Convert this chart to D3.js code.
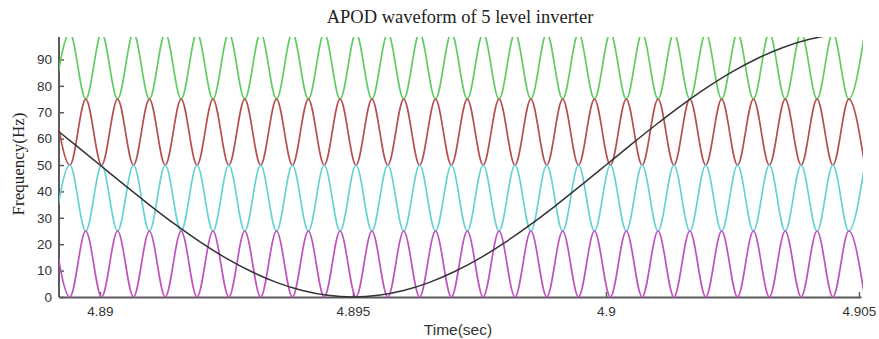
<!DOCTYPE html>
<html>
<head>
<meta charset="utf-8">
<script src="https://cdn.jsdelivr.net/npm/d3@7"></script>
<style>
  html, body { margin: 0; padding: 0; background: #fff; }
  svg { display: block; }
</style>
</head>
<body>
<svg id="chart" width="879" height="339"></svg>
<script>
// Time range and axis ticks
const timeDomain = [4.88919, 4.90504];
const levelDomain = [0, 98.5];
const timeTicks = [4.89, 4.895, 4.9, 4.905];
const timeTickLabels = ["4.89", "4.895", "4.9", "4.905"];
const levelTicks = [0, 10, 20, 30, 40, 50, 60, 70, 80, 90];

// Carrier turning points (s): alternating high / low of the lowest carrier
const carrierExtremaTimes = [
  4.889091, 4.889405, 4.889719, 4.890033, 4.890348, 4.890662, 4.890976, 4.891290,
  4.891604, 4.891918, 4.892233, 4.892547, 4.892861, 4.893175, 4.893489, 4.893803,
  4.894118, 4.894432, 4.894746, 4.895060, 4.895374, 4.895688, 4.896003, 4.896317,
  4.896631, 4.896945, 4.897259, 4.897573, 4.897887, 4.898202, 4.898516, 4.898830,
  4.899144, 4.899458, 4.899772, 4.900087, 4.900401, 4.900715, 4.901029, 4.901343,
  4.901657, 4.901972, 4.902286, 4.902600, 4.902914, 4.903228, 4.903542, 4.903857,
  4.904171, 4.904485, 4.904799, 4.905113
];

// Carrier bands [low, high]; alternate carriers are in phase opposition
const carrierNames = ["band4", "band3", "band2", "band1"];
const carrierLow  = [75, 50, 25, 0];
const carrierHigh = [100, 75, 50, 25];
const carrierStartsHigh = [false, true, false, true];
const carrierColors = ["#62cc62", "#b54f4f", "#66d3d3", "#c052c0"];

// Reference (modulating) signal samples
const refTimes = [
  4.8890, 4.8895, 4.8900, 4.8905, 4.8910, 4.8915, 4.8920, 4.8925, 4.8930, 4.8935,
  4.8940, 4.8945, 4.8950, 4.8955, 4.8960, 4.8965, 4.8970, 4.8975, 4.8980, 4.8985,
  4.8990, 4.8995, 4.9000, 4.9005, 4.9010, 4.9015, 4.9020, 4.9025, 4.9030, 4.9035,
  4.9040, 4.9045
];
const refValues = [
  65.45, 57.82, 50.00, 42.18, 34.55, 27.30, 20.61, 14.64, 9.55, 5.45,
  2.45, 0.62, 0.00, 0.62, 2.45, 5.45, 9.55, 14.64, 20.61, 27.30,
  34.55, 42.18, 50.00, 57.82, 65.45, 72.70, 79.39, 85.36, 90.45, 94.55,
  97.55, 99.38
];

const svg = d3.select("#chart");
const margin = { left: 59, right: 18, top: 37, bottom: 42 };
const W = 879, H = 339;

const x = d3.scaleLinear().domain(timeDomain).range([margin.left, W - margin.right]);
const y = d3.scaleLinear().domain(levelDomain).range([H - margin.bottom, margin.top]);

svg.append("defs").append("clipPath").attr("id", "plotClip")
  .append("rect")
  .attr("x", x.range()[0])
  .attr("y", y.range()[1])
  .attr("width", x.range()[1] - x.range()[0] + 2)
  .attr("height", y.range()[0] - y.range()[1] + 1.5);

// Title
svg.append("text")
  .attr("x", (x.range()[0] + x.range()[1]) / 2)
  .attr("y", 23)
  .attr("text-anchor", "middle")
  .attr("font-family", "'Liberation Serif', 'Times New Roman', serif")
  .attr("font-size", 18.5)
  .attr("fill", "#222")
  .text("APOD waveform of 5 level inverter");

// Axes
const axisColor = "#5a5a5a";
const xAxis = d3.axisBottom(x).tickValues(timeTicks)
  .tickFormat((d, i) => timeTickLabels[i]).tickSizeInner(-5).tickSizeOuter(0).tickPadding(9);
const yAxis = d3.axisLeft(y).tickValues(levelTicks)
  .tickSizeInner(-5).tickSizeOuter(0).tickPadding(7);

const gx = svg.append("g").attr("transform", `translate(0,${y(0)})`).call(xAxis);
const gy = svg.append("g").attr("transform", `translate(${x.range()[0]},0)`).call(yAxis);
[gx, gy].forEach(g => {
  g.select(".domain").attr("stroke", axisColor).attr("stroke-width", 2);
  g.selectAll(".tick line").attr("stroke", axisColor).attr("stroke-width", 1.5);
  g.selectAll(".tick text")
    .attr("font-family", "'Liberation Sans', Arial, sans-serif")
    .attr("font-size", 13.5)
    .attr("fill", "#333");
});
gy.select(".domain").attr("d", `M0,${y(0)}V${y.range()[1]}`);

// Axis titles
svg.append("text")
  .attr("x", 458)
  .attr("y", 335)
  .attr("text-anchor", "middle")
  .attr("font-family", "'Liberation Sans', Arial, sans-serif")
  .attr("font-size", 15.5)
  .attr("fill", "#333")
  .text("Time(sec)");

svg.append("text")
  .attr("transform", `translate(24,164) rotate(-90)`)
  .attr("text-anchor", "middle")
  .attr("font-family", "'Liberation Serif', 'Times New Roman', serif")
  .attr("font-size", 17)
  .attr("fill", "#222")
  .text("Frequency(Hz)");

// Curves
const plot = svg.append("g").attr("clip-path", "url(#plotClip)");
const line = d3.line().x(d => x(d[0])).y(d => y(d[1])).curve(d3.curveMonotoneX);

carrierNames.forEach((name, c) => {
  const pts = carrierExtremaTimes.map((t, i) => {
    const high = (i % 2 === 0) === carrierStartsHigh[c];
    return [t, high ? carrierHigh[c] : carrierLow[c]];
  });
  plot.append("path")
    .attr("class", name)
    .attr("d", line(pts))
    .attr("fill", "none")
    .attr("stroke", carrierColors[c])
    .attr("stroke-width", 1.7);
});

plot.append("path")
  .attr("d", line(refTimes.map((t, i) => [t, refValues[i]])))
  .attr("fill", "none")
  .attr("stroke", "#333")
  .attr("stroke-width", 1.5);
</script>
</body>
</html>
